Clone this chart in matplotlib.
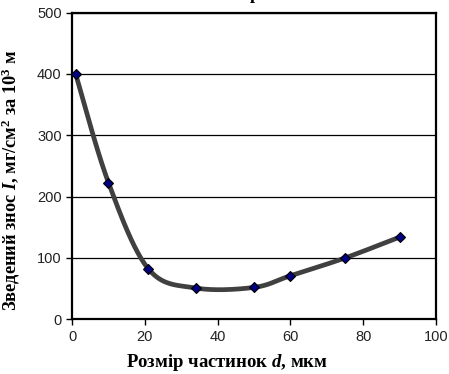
import numpy as np
import matplotlib
matplotlib.use('Agg')
import matplotlib.pyplot as plt

plt.rcParams['mathtext.fontset'] = 'custom'
plt.rcParams['mathtext.it'] = 'Liberation Serif:italic:bold'
plt.rcParams['mathtext.rm'] = 'Liberation Serif:bold'
plt.rcParams['mathtext.bf'] = 'Liberation Serif:bold'

# дані з графіка
d = [1, 10, 21, 34, 50, 60, 75, 90]
wear = [400, 223, 82, 51, 52, 71, 100, 134]


def smooth(xs, ys, n=40):
    # згладжування як в Excel (Catmull-Rom через Безье)
    p = np.column_stack([xs, ys]).astype(float)
    p = np.vstack([p[0], p, p[-1]])
    out = []
    t = np.linspace(0, 1, n)[:, None]
    for i in range(1, len(p) - 2):
        p0, p1 = p[i], p[i + 1]
        c1 = p0 + (p[i + 1] - p[i - 1]) / 6
        c2 = p1 - (p[i + 2] - p[i]) / 6
        seg = ((1 - t) ** 3) * p0 + 3 * ((1 - t) ** 2) * t * c1 + 3 * (1 - t) * t ** 2 * c2 + t ** 3 * p1
        out.append(seg)
    out = np.vstack(out)
    return out[:, 0], out[:, 1]


fig = plt.figure(figsize=(4.49, 3.74), dpi=100)
ax = fig.add_axes([0.1604, 0.1463, 0.8107, 0.8198])

sx, sy = smooth(d, wear)
ax.plot(sx, sy, color='#404040', lw=3.4, solid_capstyle='round', zorder=3)
ax.plot(d, wear, linestyle='none', marker='D', ms=5, mfc='#000080',
        mec='black', mew=0.8, zorder=4)

ax.set_xlim(0, 100)
ax.set_ylim(0, 500)
ax.set_xticks(range(0, 101, 20))
ax.set_yticks(range(0, 501, 100))
ax.yaxis.grid(True, color='black', lw=0.9)
ax.set_axisbelow(True)
for s in ax.spines.values():
    s.set_linewidth(1.6)
ax.tick_params(direction='out', length=4, width=1, labelsize=10.5, labelcolor='#222222')
for lab in ax.get_xticklabels() + ax.get_yticklabels():
    lab.set_family('Liberation Sans')

ax.set_xlabel('Розмір частинок $d$, мкм', family='Liberation Serif',
              fontweight='bold', fontsize=13.5)
ax.xaxis.set_label_coords(0.427, -0.108, transform=ax.transAxes)
ax.xaxis.label.set_va('top')
ax.set_ylabel('Зведений знос $I$, мг/см$^2$ за 10$^3$ м', family='Liberation Serif',
              fontweight='bold', fontsize=13.2)
ax.yaxis.set_label_coords(-0.137, 0.453, transform=ax.transAxes)

# обрізаний заголовок зверху
fig.text(0.568, 1.004, 'р', family='Liberation Serif', fontweight='bold',
         fontsize=13, ha='center', va='baseline')

fig.savefig('out.png', dpi=100)
